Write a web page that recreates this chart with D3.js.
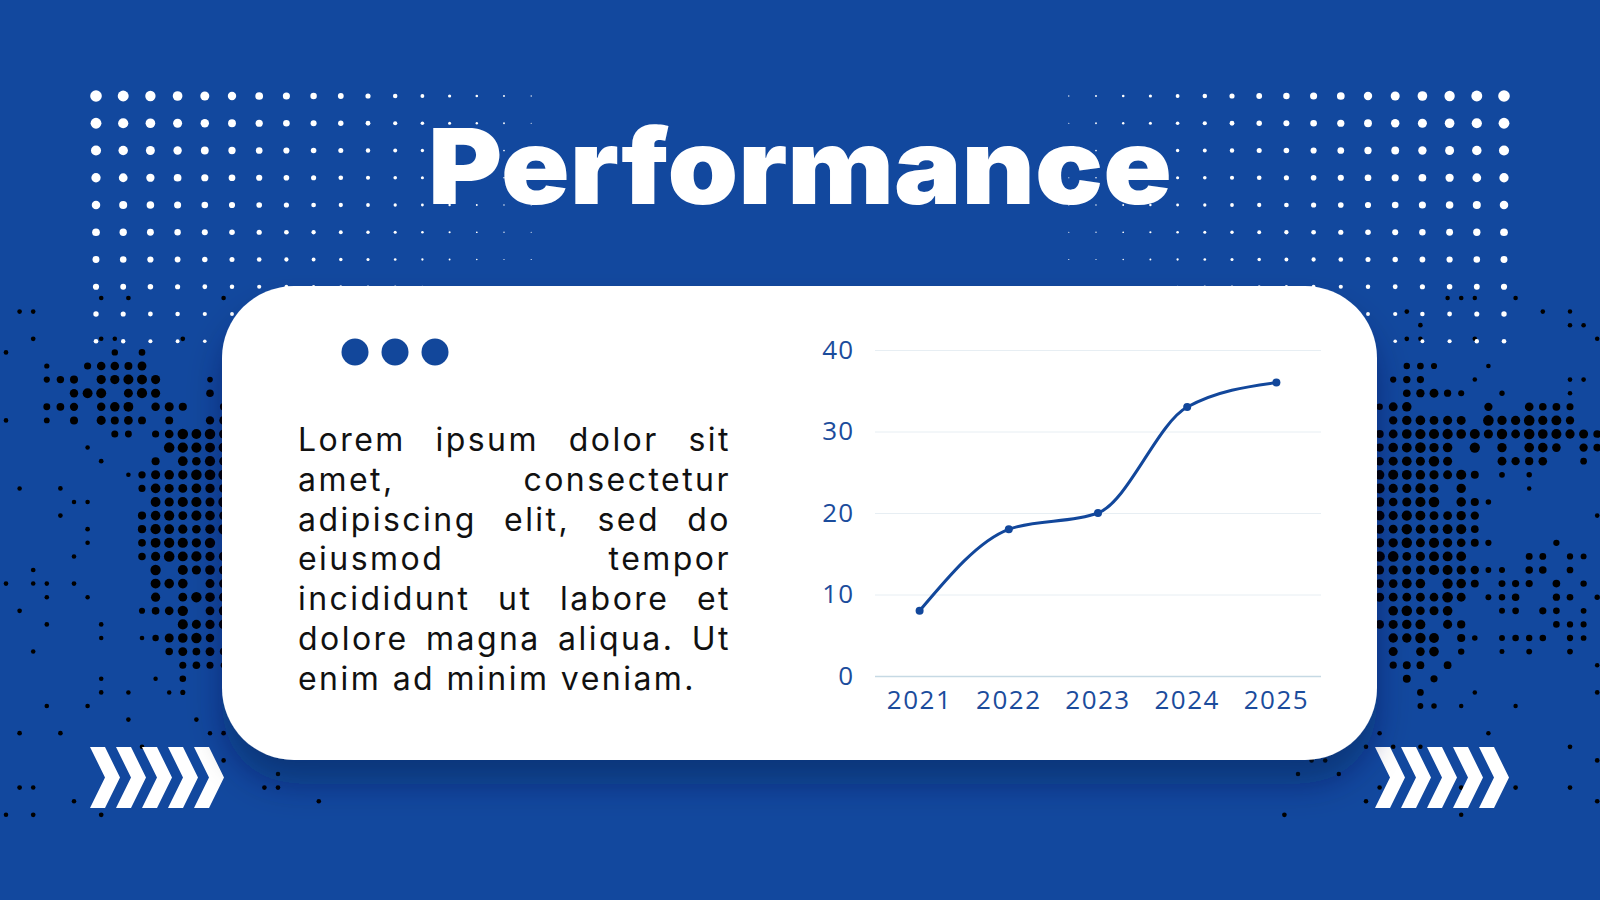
<!DOCTYPE html>
<html lang="en">
<head>
<meta charset="UTF-8" />
<title>Performance</title>
<script src="https://d3js.org/d3.v7.min.js"></script>
<style>
  html, body { margin: 0; padding: 0; background: #12489e; overflow: hidden; }
  svg { display: block; }
  .tick text { font-family: 'Open Sans', sans-serif; }
</style>
</head>
<body>
<div id="chart"></div>
<script>
// ---- data ----
const years = ['2021', '2022', '2023', '2024', '2025'];
const values = [8, 18, 20, 33, 36];
const yTicks = [0, 10, 20, 30, 40];
const title = 'Performance';
const bodyLines = [
  'Lorem ipsum dolor sit',
  'amet, consectetur',
  'adipiscing elit, sed do',
  'eiusmod tempor',
  'incididunt ut labore et',
  'dolore magna aliqua. Ut',
  'enim ad minim veniam.'
];

const W = 1600, H = 900;
const blue = '#12489e';
const ink = '#12479b';

const svg = d3.select('#chart').append('svg')
  .attr('width', W).attr('height', H);

const defs = svg.append('defs');
const shadow = defs.append('filter').attr('id', 'cardShadow')
  .attr('x', '-10%').attr('y', '-10%').attr('width', '120%').attr('height', '140%');
shadow.append('feDropShadow')
  .attr('dx', 0).attr('dy', 24).attr('stdDeviation', 16)
  .attr('flood-color', '#061a45').attr('flood-opacity', 0.4);

svg.append('rect').attr('width', W).attr('height', H).attr('fill', blue);

// deterministic hash for the decorative halftone
function hash(i, j, s) {
  let h = (i * 374761393 + j * 668265263 + s * 982451653) | 0;
  h = Math.imul(h ^ (h >>> 13), 1274126177);
  h = h ^ (h >>> 16);
  return (h >>> 0) / 4294967296;
}
function ell(x, y, cx, cy, rx, ry) {
  const d = ((x - cx) / rx) ** 2 + ((y - cy) / ry) ** 2;
  return Math.max(0, 1 - d);
}
function density(x, y) {
  if (y < 296 || y > 815) return 0;
  let base = (x < 330 || x > 1265) ? 0.13 : 0;
  if (x > 430 && x < 1200) base = 0;
  const d = Math.max(
    ell(x, y, 195, 530, 70, 170) * 1.3,
    ell(x, y, 125, 395, 105, 55) * 0.85,
    ell(x, y, 1420, 530, 75, 190) * 1.3,
    ell(x, y, 1510, 435, 125, 45) * 0.95,
    ell(x, y, 1540, 590, 70, 90) * 0.45
  );
  return Math.min(0.95, base + d);
}

// black halftone dots
const blackDots = [];
const step = 13.6;
for (let i = 0; i < 118; i++) {
  for (let j = 0; j < 39; j++) {
    const px = 6 + i * step, py = 298 + j * step;
    const d = density(px, py);
    if (d > 0 && hash(i, j, 1) < d) {
      blackDots.push({ x: px, y: py, r: 1.9 + 3.6 * Math.min(1, d) * (0.7 + 0.3 * hash(i, j, 2)) });
    }
  }
}
svg.append('g').selectAll('circle').data(blackDots).join('circle')
  .attr('cx', d => d.x).attr('cy', d => d.y).attr('r', d => d.r)
  .attr('fill', '#000');

// white halftone dots (top left, mirrored top right)
const whiteDots = [];
for (let c = 0; c < 17; c++) {
  for (let r = 0; r < 10; r++) {
    const rad = Math.max(0.6, 5.8 * (1 - c / 18) * (1 - r / 15));
    whiteDots.push({ x: 96 + c * 27.2, y: 96 + r * 27.25, r: rad });
    whiteDots.push({ x: W - 96 - c * 27.2, y: 96 + r * 27.25, r: rad });
  }
}
svg.append('g').selectAll('circle').data(whiteDots).join('circle')
  .attr('cx', d => d.x).attr('cy', d => d.y).attr('r', d => d.r)
  .attr('fill', '#fff');

// chevrons
function chevrons(x0, y0) {
  const g = svg.append('g').attr('transform', `translate(${x0},${y0})`);
  for (let k = 0; k < 5; k++) {
    const o = k * 26;
    g.append('path')
      .attr('d', `M${o},0 L${o + 15},0 L${o + 30},30.5 L${o + 15},61 L${o},61 L${o + 15},30.5 Z`)
      .attr('fill', '#fff');
  }
}
chevrons(90, 747);
chevrons(1375, 747);

// title
svg.append('text')
  .attr('x', 800).attr('y', 204)
  .attr('text-anchor', 'middle')
  .attr('font-family', 'Inter, Lato, Roboto, sans-serif')
  .attr('font-weight', 900)
  .attr('font-size', 105)
  .attr('textLength', 744)
  .attr('lengthAdjust', 'spacingAndGlyphs')
  .attr('fill', '#fff')
  .text(title);

// card
svg.append('rect')
  .attr('x', 222).attr('y', 286).attr('width', 1155).attr('height', 474)
  .attr('rx', 72).attr('ry', 72)
  .attr('fill', '#fff')
  .attr('filter', 'url(#cardShadow)');

// three dots
svg.append('g').selectAll('circle').data([355, 395, 435]).join('circle')
  .attr('cx', d => d).attr('cy', 352).attr('r', 13.5).attr('fill', ink);

// justified paragraph
const textX0 = 298, textX1 = 731, lineY0 = 451, lineStep = 39.8;
const bodyFont = "Inter, 'Open Sans', sans-serif";
const fs = 32;
const bodyG = svg.append('g')
  .attr('font-family', bodyFont).attr('font-size', fs).attr('fill', '#111');
function textWidth(s, ls) {
  const t = bodyG.append('text').attr('letter-spacing', ls).text(s);
  const w = t.node().getComputedTextLength();
  t.remove();
  return w;
}
// letter spacing so the last line spans like the reference, but keep room for gaps
const lastLine = bodyLines[bodyLines.length - 1];
let ls = Math.max(0, (398 - textWidth(lastLine, 0)) / lastLine.length);
for (let it = 0; it < 20; it++) {
  const ok = bodyLines.slice(0, -1).every(line => {
    const words = line.split(' ');
    const sum = d3.sum(words, w => textWidth(w, ls));
    return (textX1 - textX0 - sum) / (words.length - 1) >= 10;
  });
  if (ok) break;
  ls *= 0.85;
}
bodyG.attr('letter-spacing', ls);

bodyLines.forEach((line, li) => {
  const y = lineY0 + li * lineStep;
  const words = line.split(' ');
  if (li === bodyLines.length - 1) {
    bodyG.append('text').attr('x', textX0).attr('y', y).text(line);
    return;
  }
  const widths = words.map(w => textWidth(w, ls));
  const gap = (textX1 - textX0 - d3.sum(widths)) / (words.length - 1);
  let px = textX0;
  words.forEach((w, k) => {
    bodyG.append('text').attr('x', px).attr('y', y).text(w);
    px += widths[k] + gap;
  });
});

// chart
const x = d3.scaleBand().domain(years).range([875, 1321]);
const y = d3.scaleLinear().domain([0, 40]).range([676, 350]);
const cx = d => x(d) + x.bandwidth() / 2;

const yAxis = svg.append('g')
  .attr('transform', 'translate(875,0)')
  .call(d3.axisLeft(y).tickValues(yTicks).tickSize(-446).tickPadding(21));
yAxis.select('.domain').remove();
yAxis.selectAll('.tick line')
  .attr('stroke', d => d === 0 ? '#c6d9e4' : '#e7eef3')
  .attr('stroke-width', d => d === 0 ? 1.5 : 1);
yAxis.selectAll('.tick text')
  .attr('fill', '#1b4c9c').attr('font-size', 26).attr('letter-spacing', 1);

const xAxis = svg.append('g')
  .attr('transform', 'translate(0,676)')
  .call(d3.axisBottom(x).tickSize(0).tickPadding(15));
xAxis.select('.domain').remove();
xAxis.selectAll('.tick text')
  .attr('fill', '#1b4c9c').attr('font-size', 26).attr('letter-spacing', 1.5);

const pts = years.map((yr, i) => ({ year: yr, value: values[i] }));
const line = d3.line()
  .x(d => cx(d.year)).y(d => y(d.value))
  .curve(d3.curveMonotoneX);
svg.append('path').datum(pts)
  .attr('d', line)
  .attr('fill', 'none').attr('stroke', ink).attr('stroke-width', 3);
svg.append('g').selectAll('circle').data(pts).join('circle')
  .attr('cx', d => cx(d.year)).attr('cy', d => y(d.value))
  .attr('r', 4).attr('fill', ink);
</script>
</body>
</html>
